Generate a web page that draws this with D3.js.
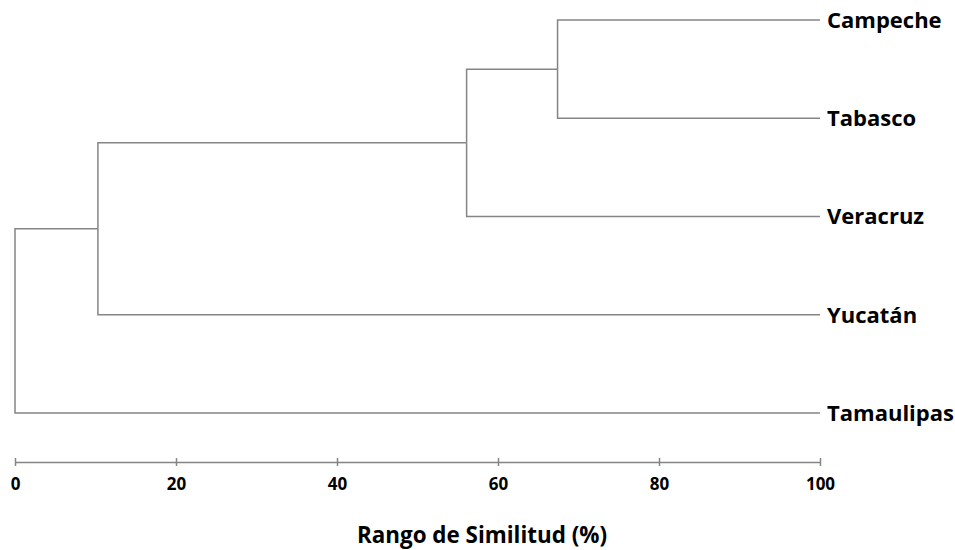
<!DOCTYPE html>
<html>
<head>
<meta charset="utf-8">
<script src="https://cdn.jsdelivr.net/npm/d3@7"></script>
<style>
  body { margin: 0; background: #fff; }
  svg text { font-family: "Open Sans", sans-serif; font-weight: bold; fill: #000; }
</style>
</head>
<body>
<svg id="chart" width="955" height="550"></svg>
<script>
// leaves, top to bottom
var leaves = ["Campeche", "Tabasco", "Veracruz", "Yucatán", "Tamaulipas"];
// merges like a linkage table: [left, right, similarity]; ids >= 5 are earlier merges
var merges = [
  [0, 1, 67.4],
  [5, 2, 56.1],
  [6, 3, 10.3],
  [7, 4, 0]
];
var ticks = [0, 20, 40, 60, 80, 100];
var axis_title = "Rango de Similitud (%)";

var svg = d3.select("#chart");
var x = d3.scaleLinear().domain([0, 100]).range([15, 820]);
var y = d3.scalePoint().domain(leaves).range([20, 413]);

// nodes: leaves sit at 100 % similarity
var nodes = leaves.map(function(name) {
  return { x: x(100), y: y(name) };
});
merges.forEach(function(m) {
  var a = nodes[m[0]], b = nodes[m[1]];
  nodes.push({ x: x(m[2]), y: (a.y + b.y) / 2, kids: [a, b] });
});

// elbow links
var segs = [];
nodes.forEach(function(n) {
  if (!n.kids) return;
  n.kids.forEach(function(k) {
    segs.push("M" + n.x + "," + n.y + "V" + k.y + "H" + k.x);
  });
});

svg.selectAll(".link")
  .data(segs)
  .enter()
  .append("path")
  .attr("class", "link")
  .attr("d", function(d) { return d; })
  .attr("fill", "none")
  .attr("stroke", "#858585")
  .attr("stroke-width", 1.5);

// leaf labels
svg.selectAll(".leaf")
  .data(leaves)
  .enter()
  .append("text")
  .attr("class", "leaf")
  .attr("x", x(100) + 7)
  .attr("y", function(d) { return y(d); })
  .attr("dy", "0.36em")
  .attr("font-size", 22)
  .text(function(d) { return d; });

// axis
var ax = svg.append("g")
  .attr("transform", "translate(0,462)")
  .call(d3.axisBottom(x).tickValues(ticks).tickSize(4).tickSizeOuter(0).tickPadding(12));
ax.select(".domain").attr("stroke", "#858585").attr("stroke-width", 1.5);
ax.selectAll(".tick line")
  .attr("y1", -4)
  .attr("y2", 4)
  .attr("stroke", "#858585")
  .attr("stroke-width", 1.5);
ax.selectAll(".tick text")
  .attr("font-size", 17)
  .attr("font-family", "Open Sans, sans-serif")
  .attr("fill", "#000");

svg.append("text")
  .attr("x", 482)
  .attr("y", 535)
  .attr("dy", "0.36em")
  .attr("text-anchor", "middle")
  .attr("font-size", 22.4)
  .text(axis_title);
</script>
</body>
</html>
